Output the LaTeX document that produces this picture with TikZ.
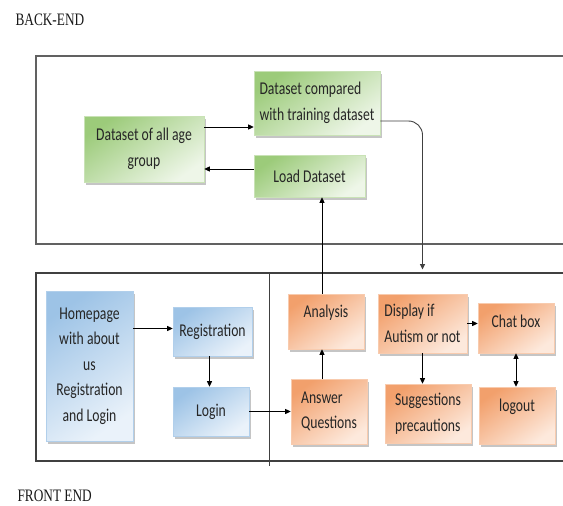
\documentclass[tikz,border=0pt]{standalone}
\usepackage{fontspec}
\setmainfont{Carlito}[FakeStretch=0.76]
\newfontfamily\labelserif{Liberation Serif}[FakeStretch=0.76]
\usetikzlibrary{arrows.meta,shadows}
\definecolor{gD}{HTML}{9CCB7A}
\definecolor{gL}{HTML}{EEF6E8}
\definecolor{oD}{HTML}{F2A06C}
\definecolor{oL}{HTML}{FDE9DC}
\definecolor{bD}{HTML}{9DC3E6}
\definecolor{bL}{HTML}{EAF2FA}
\tikzset{
  box/.style={rectangle, inner sep=2pt, text=black!85,
    font=\fontsize{18}{25.5}\selectfont,
    drop shadow={shadow xshift=2pt, shadow yshift=-2.5pt, fill=black!50, opacity=0.45}},
  gbox/.style={box, draw=gD!55!white, line width=0.6pt, top color=gD, bottom color=gL, shading angle=35},
  obox/.style={box, draw=oD!55!white, line width=0.6pt, top color=oD, bottom color=oL, shading angle=35},
  bbox/.style={box, draw=bD!80!white, line width=0.6pt, top color=bD, bottom color=bL, shading angle=35},
  raised/.style={text height=12pt, text depth=#1},
  conn/.style={-{Triangle[length=5.5pt,width=5pt]}, line width=0.9pt, black},
  frame/.style={draw=black!62, line width=1.2pt},
  sectlabel/.style={anchor=base west, font=\labelserif\fontsize{17.5}{20}\selectfont, text=black!90}
}
\begin{document}
\begin{tikzpicture}[x=1pt,y=-1pt]
\useasboundingbox (0,0) rectangle (563,506);
\fill[white] (0,0) rectangle (563,506);

% frames
\draw[frame] (563,56) -- (36,56) -- (36,244) -- (563,244);
\draw[frame, draw=black!75] (563,273) -- (36,273) -- (36,461) -- (563,461);
\draw[frame, draw=black!75, line width=0.9pt] (269,273) -- (269,466);
\coordinate (ftop) at (0,269.5);

% section labels
\node[sectlabel] (bl) at (12,25) {BACK-END};
\node[sectlabel] (fl) at (14,501.5) {FRONT END};

% back-end boxes
\node[gbox, minimum width=120pt, minimum height=66pt, align=center] (age) at (144,149) {Dataset of all age\\group};
\node[gbox, minimum width=126pt, minimum height=64pt, align=left] (comp) at (317,103) {Dataset compared\\with training dataset};
\node[gbox, minimum width=111pt, minimum height=42pt] (load) at (309.5,176) {Load Dataset};

% front-end blue boxes
\node[bbox, minimum width=87pt, minimum height=150pt, align=center] (home) at (89.5,366) {Homepage\\with about\\us\\Registration\\and Login};
\node[bbox, minimum width=79pt, minimum height=49pt] (reg) at (212.5,331.5) {Registration};
\node[bbox, minimum width=76pt, minimum height=49pt] (login) at (211,411.5) {Login};

% front-end orange boxes
\node[obox, minimum width=76pt, minimum height=55pt, raised=20pt] (ana) at (326,321.5) {Analysis};
\node[obox, minimum width=76pt, minimum height=65pt, align=left] (ans) at (329,411.5) {Answer\\Questions};
\node[obox, minimum width=89pt, minimum height=59pt, align=left] (disp) at (422.5,323.5) {Display if\\Autism or not};
\node[obox, minimum width=76pt, minimum height=50pt, raised=14pt] (chat) at (516,328) {Chat box};
\node[obox, minimum width=86pt, minimum height=59pt, align=left] (sug) at (428,413.5) {Suggestions\\precautions};
\node[obox, minimum width=76pt, minimum height=57pt, raised=20pt] (logout) at (517,415.5) {logout};

% connectors
\draw[conn] ([yshift=22pt]age.east) -- ([yshift=22pt]age.east -| comp.west);
\draw[conn] ([yshift=7pt]load.west) -- ([yshift=7pt]load.west -| age.east);
\draw[conn, black!75, rounded corners=14pt] ([yshift=-18pt]comp.east) -| (disp.north |- ftop);
\draw[conn] ([xshift=-4pt]ana.north) -- ([xshift=-4pt]ana.north |- load.south);
\draw[conn] ([xshift=-7pt]ans.north) -- ([xshift=-7pt]ans.north |- ana.south);
\draw[conn] ([yshift=3pt]reg.west -| home.east) -- ([yshift=3pt]reg.west);
\draw[conn] ([xshift=-3pt]reg.south) -- ([xshift=-3pt]reg.south |- login.north);
\draw[conn] (login.east) -- (login.east -| ans.west);
\draw[conn] (disp.south) -- (disp.south |- sug.north);
\draw[conn] (disp.east) -- (disp.east -| chat.west);
\draw[conn, {Triangle[length=5.5pt,width=5pt]}-{Triangle[length=5.5pt,width=5pt]}] (chat.south) -- (chat.south |- logout.north);
\end{tikzpicture}
\end{document}
